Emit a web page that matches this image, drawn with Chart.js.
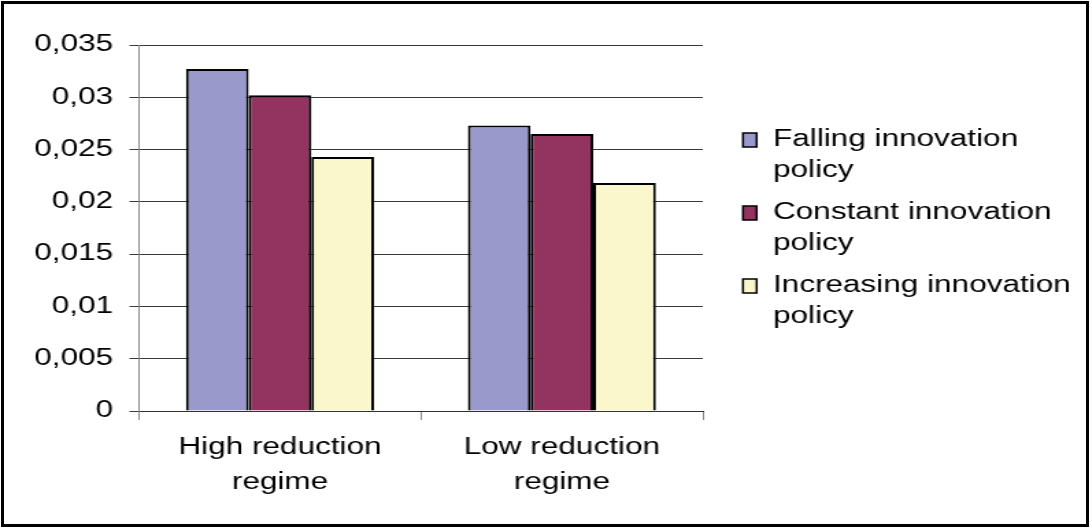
<!DOCTYPE html>
<html>
<head>
<meta charset="utf-8">
<script src="https://cdn.jsdelivr.net/npm/chart.js@4/dist/chart.umd.min.js"></script>
<style>
  html, body { margin: 0; padding: 0; background: #fff; }
  #page { position: relative; width: 1092px; height: 529px; overflow: hidden; }
  #stretch { position: absolute; left: 0; top: 0; transform: scaleX(1.37); transform-origin: 0 0; }
  #frame { position: absolute; left: 1px; top: 1px; width: 1088px; height: 526px;
           box-sizing: border-box; border: 3px solid #000; pointer-events: none; }
</style>
</head>
<body>
<div id="page">
  <div id="stretch"><canvas id="myChart" width="797" height="529"></canvas></div>
  <div id="frame"></div>
</div>
<script>
// values
var categories = [["High reduction", "regime"], ["Low reduction", "regime"]];
var seriesNames = ["Falling innovation policy", "Constant innovation policy", "Increasing innovation policy"];
var falling = [0.0327, 0.0273];
var constant = [0.0302, 0.0265];
var increasing = [0.0243, 0.0218];
var yTickLabels = ["0", "0,005", "0,01", "0,015", "0,02", "0,025", "0,03", "0,035"];

var colors = ['#9999CC', '#933360', '#FAF7CD'];
var FONT = '"Liberation Sans", Arial, sans-serif';

var options = {
  type: 'bar',
  data: {
    labels: categories,
    datasets: [
      { label: seriesNames[0], data: falling, backgroundColor: colors[0] },
      { label: seriesNames[1], data: constant, backgroundColor: colors[1] },
      { label: seriesNames[2], data: increasing, backgroundColor: colors[2] }
    ].map(function (d) {
      d.borderColor = '#000';
      d.borderWidth = 2;
      d.borderSkipped = 'bottom';
      d.categoryPercentage = 0.667;
      d.barPercentage = 1;
      return d;
    })
  },
  options: {
    responsive: false,
    animation: false,
    layout: { padding: { top: 45, right: 284, left: 0, bottom: 0 } },
    scales: {
      x: {
        grid: {
          offset: true,
          drawOnChartArea: false,
          drawTicks: true,
          tickLength: 9,
          color: '#888'
        },
        border: { color: '#333', width: 1 },
        ticks: {
          color: '#000',
          padding: 10,
          maxRotation: 0,
          font: { family: FONT, size: 23, lineHeight: 1.52 }
        },
        afterFit: function (scale) { scale.height = 118; }
      },
      y: {
        min: 0,
        max: 0.035,
        grid: { color: '#3a3a3a', tickLength: 7 },
        border: { color: '#888', width: 1 },
        ticks: {
          stepSize: 0.005,
          color: '#000',
          padding: 12,
          font: { family: FONT, size: 23 },
          callback: function (value, index) { return yTickLabels[index]; }
        },
        afterFit: function (scale) { scale.width = 101.5; }
      }
    },
    plugins: {
      legend: { display: false },
      tooltip: { enabled: false },
      sideLegend: {
        markerX: 542.3,
        textX: 564.2,
        firstY: 140,
        lineGap: 31,
        entryGap: 73,
        maxWidth: 225
      }
    }
  },
  plugins: [
    {
      id: 'sideLegend',
      afterDraw: (chart, args, opts) => {
        const { ctx, data: { datasets } } = chart;
        ctx.save();
        ctx.font = '23px ' + FONT;
        ctx.textBaseline = 'middle';
        ctx.fillStyle = '#000';
        datasets.forEach((ds, i) => {
          // wrap label like Excel does
          const words = ds.label.split(' ');
          const lines = [];
          let cur = '';
          words.forEach(w => {
            const test = cur ? cur + ' ' + w : w;
            if (cur && ctx.measureText(test).width > opts.maxWidth) {
              lines.push(cur);
              cur = w;
            } else {
              cur = test;
            }
          });
          lines.push(cur);
          const y = opts.firstY + i * opts.entryGap;
          ctx.fillStyle = ds.backgroundColor;
          ctx.fillRect(opts.markerX, y - 7, 10, 14);
          ctx.lineWidth = 1.5;
          ctx.strokeStyle = '#000';
          ctx.strokeRect(opts.markerX, y - 7, 10, 14);
          ctx.fillStyle = '#000';
          lines.forEach((ln, j) => {
            ctx.fillText(ln, opts.textX, y + j * opts.lineGap);
          });
        });
        ctx.restore();
      }
    }
  ]
};

var ctx = document.getElementById('myChart').getContext('2d');
new Chart(ctx, options);
</script>
</body>
</html>
